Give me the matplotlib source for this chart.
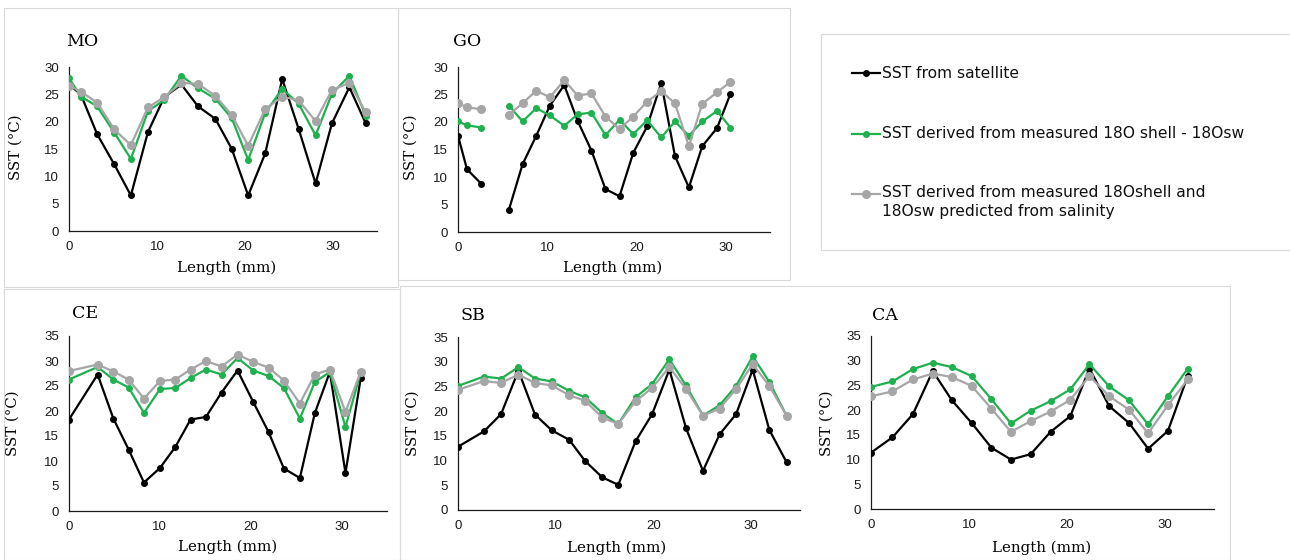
import numpy as np
import matplotlib
matplotlib.use("Agg")
import matplotlib.pyplot as plt
from matplotlib.lines import Line2D
from matplotlib.patches import Rectangle

# ---------------- data ----------------
series_labels = ["SST from satellite",
                 "SST derived from measured 18O shell - 18Osw",
                 "SST derived from measured 18Oshell and\n18Osw predicted from salinity"]

mo_x = [0, 1.34, 3.2, 5.14, 7.03, 8.97, 10.83, 12.77, 14.66, 16.64, 18.5, 20.36, 22.3, 24.23, 26.09, 28.02, 29.88, 31.86, 33.72]
mo_sat = [26.8, 25.0, 17.7, 12.2, 6.5, 18.1, 24.5, 26.8, 22.8, 20.5, 15.0, 6.5, 14.2, 27.8, 18.7, 8.7, 19.7, 26.3, 19.7]
mo_meas = [28.0, 24.6, 22.8, 18.0, 13.2, 21.9, 24.0, 28.4, 26.1, 24.2, 20.6, 13.0, 21.6, 26.0, 23.3, 17.5, 25.1, 28.4, 21.1]
mo_pred = [26.6, 25.5, 23.5, 18.6, 15.7, 22.6, 24.5, 27.1, 26.9, 24.7, 21.2, 15.6, 22.3, 24.6, 23.9, 20.1, 25.8, 27.1, 21.7]

go_x = [0, 1.01, 2.59, 4.1, 5.70, 7.24, 8.78, 10.31, 11.92, 13.42, 14.97, 16.54, 18.12, 19.66, 21.22, 22.8, 24.34, 25.9, 27.4, 29.06, 30.56]
go_sat = [17.5, 11.4, 8.8, np.nan, 4.0, 12.3, 17.5, 23.0, 26.7, 20.2, 14.8, 7.8, 6.5, 14.4, 19.2, 27.1, 13.8, 8.1, 15.6, 18.9, 25.1]
go_meas = [20.1, 19.4, 19.0, np.nan, 23.0, 20.1, 22.5, 21.2, 19.3, 21.4, 21.7, 17.6, 20.4, 17.8, 20.3, 17.2, 20.1, 17.5, 20.1, 22.0, 19.0]
go_pred = [23.4, 22.7, 22.3, np.nan, 21.3, 23.4, 25.7, 24.5, 27.6, 24.8, 25.2, 21.0, 18.7, 21.0, 23.7, 25.6, 23.4, 15.6, 23.3, 25.4, 27.3]

ce_x = [0, 3.15, 4.88, 6.56, 8.25, 10.01, 11.7, 13.38, 15.07, 16.79, 18.55, 20.28, 21.96, 23.65, 25.41, 27.06, 28.71, 30.43, 32.12]
ce_sat = [18.3, 27.3, 18.5, 12.3, 5.7, 8.6, 12.8, 18.3, 18.8, 23.7, 28.1, 21.8, 15.8, 8.5, 6.6, 19.6, 27.8, 7.6, 26.7]
ce_meas = [26.3, 28.8, 26.3, 24.7, 19.6, 24.4, 24.6, 26.6, 28.3, 27.3, 30.6, 28.1, 27.0, 24.6, 18.5, 25.8, 27.8, 16.8, 27.8]
ce_pred = [28.0, 29.3, 27.9, 26.3, 22.5, 26.0, 26.3, 28.3, 30.0, 28.9, 31.3, 29.8, 28.7, 26.1, 21.5, 27.3, 28.3, 19.8, 27.9]

sb_x = [0, 2.65, 4.41, 6.18, 7.88, 9.61, 11.38, 13.01, 14.77, 16.4, 18.17, 19.87, 21.63, 23.33, 25.07, 26.77, 28.46, 30.16, 31.86, 33.62]
sb_sat = [12.8, 15.9, 19.4, 28.2, 19.3, 16.1, 14.2, 9.9, 6.6, 5.1, 13.9, 19.4, 28.4, 16.6, 7.9, 15.3, 19.4, 28.4, 16.2, 9.7]
sb_meas = [25.1, 27.0, 26.6, 28.9, 26.6, 26.0, 24.1, 22.8, 19.6, 17.4, 22.8, 25.5, 30.5, 25.2, 19.1, 21.2, 25.1, 31.1, 25.9, 19.1]
sb_pred = [24.3, 26.1, 25.7, 27.4, 25.7, 25.2, 23.2, 22.1, 18.7, 17.4, 22.0, 24.7, 28.9, 24.5, 19.1, 20.5, 24.5, 29.5, 25.1, 19.1]

ca_x = [0, 2.19, 4.28, 6.30, 8.25, 10.27, 12.29, 14.28, 16.30, 18.32, 20.34, 22.29, 24.31, 26.33, 28.28, 30.30, 32.32]
ca_sat = [11.4, 14.5, 19.2, 27.9, 22.0, 17.4, 12.4, 10.0, 11.1, 15.6, 18.8, 28.4, 20.8, 17.4, 12.2, 15.8, 26.9]
ca_meas = [24.7, 25.8, 28.3, 29.6, 28.7, 26.9, 22.2, 17.3, 19.9, 21.8, 24.2, 29.3, 24.8, 22.0, 17.1, 22.8, 28.4]
ca_pred = [22.8, 23.8, 26.2, 27.4, 26.7, 24.9, 20.3, 15.6, 17.8, 19.7, 22.1, 26.9, 22.8, 20.1, 15.3, 21.0, 26.2]

x_ticks = [0, 10, 20, 30]

# ---------------- layout / style ----------------
W, H = 1290, 560
fig = plt.figure(figsize=(W / 100, H / 100), dpi=100)
fig.patch.set_facecolor("white")

def fx(px):
    return px / W

def fy(py):
    return 1 - py / H

COL_SAT = "#000000"
COL_MEAS = "#1fb04f"
COL_PRED = "#a6a6a6"
SERIF = ["DejaVu Serif"]
SANS = ["Liberation Sans", "DejaVu Sans"]
BORDER = "#d9d9d9"

# panel borders
for (x0, y0, x1, y1) in [(4, 8, 398, 287), (398, 8, 790, 280), (821, 34, 1290, 250),
                         (4, 289, 400, 560), (400, 286, 1230, 560)]:
    fig.add_artist(Rectangle((fx(x0), fy(y1)), fx(x1) - fx(x0), fy(y0) - fy(y1),
                             transform=fig.transFigure, fill=False,
                             edgecolor=BORDER, lw=0.8))

panels = [
    # name, x, sat, meas, pred, (left, right, top, bottom), ymax, title pos, xlabel pos, ylabel pos
    ("MO", mo_x, mo_sat, mo_meas, mo_pred, (69, 377, 67, 231), 30, (66, 41), (227, 268), (16, 147)),
    ("GO", go_x, go_sat, go_meas, go_pred, (458, 770, 67, 232), 30, (453, 41), (613, 268), (411, 147)),
    ("CE", ce_x, ce_sat, ce_meas, ce_pred, (69, 387, 336, 511), 35, (72, 313), (228, 547), (13, 423)),
    ("SB", sb_x, sb_sat, sb_meas, sb_pred, (458, 800, 337, 510), 35, (461, 316), (617, 548), (413, 423)),
    ("CA", ca_x, ca_sat, ca_meas, ca_pred, (871, 1214, 336, 509), 35, (872, 316), (1042, 548), (827, 423)),
]

for name, x, sat, meas, pred, (l, r, t, b), ymax, tpos, xlpos, ylpos in panels:
    ax = fig.add_axes([fx(l), fy(b), fx(r) - fx(l), fy(t) - fy(b)])
    ax.plot(x, sat, color=COL_SAT, lw=1.6, marker="o", ms=4, zorder=3)
    ax.plot(x, meas, color=COL_MEAS, lw=1.6, marker="o", ms=4, zorder=4)
    ax.plot(x, pred, color=COL_PRED, lw=1.6, marker="o", ms=5.5, zorder=5)
    ax.set_xlim(0, 35)
    ax.set_ylim(0, ymax)
    ax.set_xticks(x_ticks)
    ax.set_yticks(np.arange(0, ymax + 1, 5))
    ax.tick_params(length=0, labelsize=9.5, pad=7, colors="#1a1a1a")
    for lab in ax.get_xticklabels() + ax.get_yticklabels():
        lab.set_family(SANS)
    for s in ["top", "right"]:
        ax.spines[s].set_visible(False)
    for s in ["left", "bottom"]:
        ax.spines[s].set_color("#1a1a1a")
        ax.spines[s].set_linewidth(0.9)
    ax.set_facecolor("none")
    fig.text(fx(tpos[0]), fy(tpos[1]), name, family=SERIF, fontsize=12.5,
             ha="left", va="center")
    fig.text(fx(xlpos[0]), fy(xlpos[1]), "Length (mm)", family=SERIF, fontsize=10.8,
             ha="center", va="center")
    fig.text(fx(ylpos[0]), fy(ylpos[1]), "SST (°C)", family=SERIF, fontsize=10.8,
             ha="center", va="center", rotation=90)

# legend (drawn manually, handle aligned with first text line)
leg_y = [73, 134, 194]
for lab, col, ms, yy in zip(series_labels, [COL_SAT, COL_MEAS, COL_PRED], [4, 4, 5.5], leg_y):
    fig.add_artist(Line2D([fx(852), fx(880)], [fy(yy), fy(yy)], color=col, lw=1.6,
                          transform=fig.transFigure))
    fig.add_artist(Line2D([fx(866)], [fy(yy)], color=col, marker="o", ms=ms,
                          lw=0, transform=fig.transFigure))
    if "\n" in lab:
        fig.text(fx(882), fy(yy - 9), lab, family=["DejaVu Sans"], fontsize=11.2,
                 ha="left", va="top", linespacing=1.3, color="#111111")
    else:
        fig.text(fx(882), fy(yy), lab, family=["DejaVu Sans"], fontsize=11.2,
                 ha="left", va="center", color="#111111")

fig.savefig("out.png", dpi=100, facecolor="white")
